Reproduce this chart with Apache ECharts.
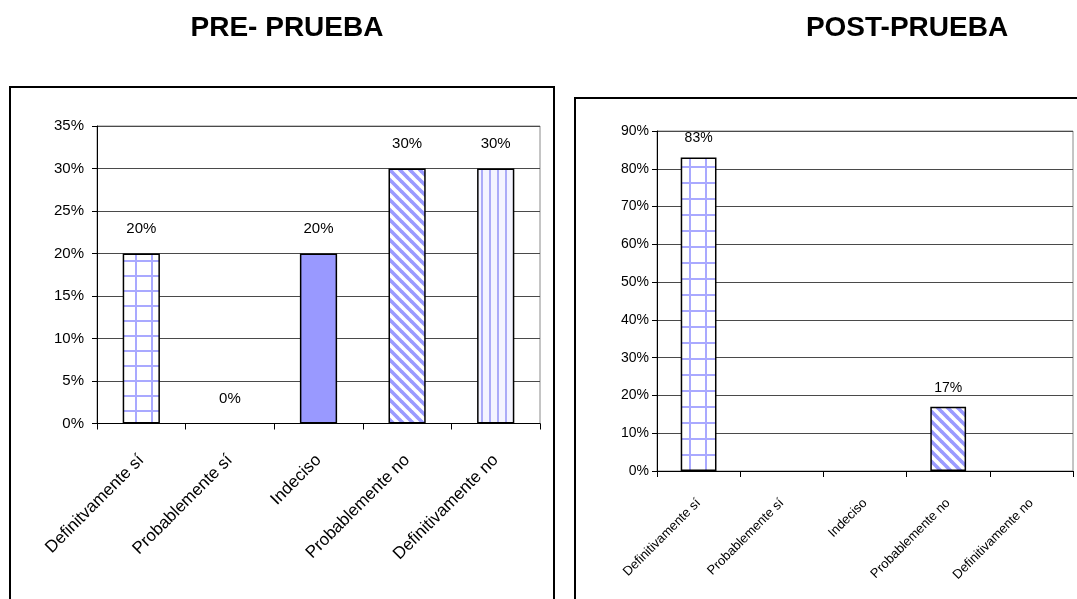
<!DOCTYPE html>
<html>
<head>
<meta charset="utf-8">
<script src="https://cdn.jsdelivr.net/npm/echarts@6/dist/echarts.min.js"></script>
<style>
  html, body { margin: 0; padding: 0; background: #fff; }
  #chart { width: 1077px; height: 599px; }
</style>
</head>
<body>
<div id="chart"></div>
<script>
// Survey answers, before and after
const preCategories = ['Definitvamente sí', 'Probablemente sí', 'Indeciso', 'Probablemente no', 'Definitivamente no'];
const postCategories = ['Definitivamente sí', 'Probablemente sí', 'Indeciso', 'Probablemente no', 'Definitivamente no'];
const preValues = [20, 0, 20, 30, 30];
const postValues = [83, 0, 0, 17, 0];
const preTicks = [0, 5, 10, 15, 20, 25, 30, 35];
const postTicks = [0, 10, 20, 30, 40, 50, 60, 70, 80, 90];

const FONT = 'Arial, "Liberation Sans", sans-serif';

// ---- fill patterns ----
function gridPattern(w, h, vx, hy) {
  const c = document.createElement('canvas');
  c.width = w; c.height = h;
  const g = c.getContext('2d');
  g.fillStyle = '#ffffff'; g.fillRect(0, 0, w, h);
  g.fillStyle = '#a9a9ff';
  g.fillRect(vx - 1, 0, 2, h);
  g.fillRect(0, hy - 1, w, 2);
  return c;
}
function diagonalPattern() {
  const s = 10;
  const c = document.createElement('canvas');
  c.width = s; c.height = s;
  const g = c.getContext('2d');
  g.fillStyle = '#ffffff'; g.fillRect(0, 0, s, s);
  g.strokeStyle = '#9a9aff';
  g.lineWidth = 3.6;
  for (let k = -s; k <= s; k += s) {
    g.beginPath(); g.moveTo(k - 1, -1); g.lineTo(k + s + 1, s + 1); g.stroke();
  }
  return c;
}
function verticalPattern() {
  const c = document.createElement('canvas');
  c.width = 8; c.height = 1;
  const g = c.getContext('2d');
  g.fillStyle = '#f4f4ff'; g.fillRect(0, 0, 8, 1);
  g.fillStyle = '#ababf8'; g.fillRect(1, 0, 2, 1);
  return c;
}
const pat = (img) => ({ image: img, repeat: 'repeat' });

const preFills = [
  pat(gridPattern(16, 15, 8, 6)),
  '#ffffff',
  '#9999ff',
  pat(diagonalPattern()),
  pat(verticalPattern())
];
const postFills = [
  pat(gridPattern(16, 16, 2, 7)),
  '#ffffff',
  '#ffffff',
  pat(diagonalPattern()),
  '#ffffff'
];

function buildData(values, fills, hideZero) {
  return values.map((v, i) => ({
    value: v,
    itemStyle: { color: fills[i], borderWidth: v === 0 ? 0 : 1.5 },
    label: { show: !(hideZero && v === 0) }
  }));
}

function catAxis(gridIndex, cats, fontSize, margin) {
  return {
    type: 'category', gridIndex, data: cats,
    axisLine: { lineStyle: { color: '#000', width: 1 } },
    axisTick: { show: true, length: 6, lineStyle: { color: '#000' } },
    axisLabel: {
      rotate: 45, interval: 0, margin, color: '#000',
      fontFamily: FONT, fontSize
    },
    splitLine: { show: false }
  };
}
function valAxis(gridIndex, ticks, fontSize, margin) {
  return {
    type: 'value', gridIndex,
    min: ticks[0], max: ticks[ticks.length - 1], interval: ticks[1] - ticks[0],
    axisLine: { show: true, lineStyle: { color: '#000', width: 1 } },
    axisTick: { show: true, length: 5, lineStyle: { color: '#000' } },
    axisLabel: { formatter: '{value}%', color: '#000', fontFamily: FONT, fontSize, margin },
    splitLine: { show: true, lineStyle: { color: '#4a4a4a', width: 1 } }
  };
}

const chart = echarts.init(document.getElementById('chart'), null, { renderer: 'canvas', devicePixelRatio: 1 });

chart.setOption({
  animation: false,
  backgroundColor: '#ffffff',
  grid: [
    { left: 97, right: 537, top: 126, bottom: 175.5, show: true, borderColor: '#8a8a8a', borderWidth: 1, backgroundColor: 'transparent' },
    { left: 657, right: 4, top: 131, bottom: 128, show: true, borderColor: '#8a8a8a', borderWidth: 1, backgroundColor: 'transparent' }
  ],
  xAxis: [
    catAxis(0, preCategories, 17, 34),
    catAxis(1, postCategories, 13, 30)
  ],
  yAxis: [
    valAxis(0, preTicks, 15, 13),
    valAxis(1, postTicks, 14, 8)
  ],
  series: [
    {
      type: 'bar', xAxisIndex: 0, yAxisIndex: 0, barWidth: '42%',
      data: buildData(preValues, preFills, false),
      itemStyle: { borderColor: '#000', borderWidth: 1.5 },
      label: { show: true, position: 'top', distance: 17, formatter: '{c}%', color: '#000', fontFamily: FONT, fontSize: 15 }
    },
    {
      type: 'bar', xAxisIndex: 1, yAxisIndex: 1, barWidth: '43%',
      data: buildData(postValues, postFills, true),
      itemStyle: { borderColor: '#000', borderWidth: 1.5 },
      label: { show: true, position: 'top', distance: 12, formatter: '{c}%', color: '#000', fontFamily: FONT, fontSize: 14 }
    }
  ],
  graphic: [
    { type: 'rect', shape: { x: 10, y: 87, width: 544, height: 600 }, style: { fill: 'none', stroke: '#000', lineWidth: 2 }, silent: true },
    { type: 'rect', shape: { x: 575, y: 98, width: 600, height: 600 }, style: { fill: 'none', stroke: '#000', lineWidth: 2 }, silent: true },
    { type: 'text', x: 287, y: 28, style: { text: 'PRE- PRUEBA', font: 'bold 28px ' + FONT, fill: '#000', textAlign: 'center', textVerticalAlign: 'middle' } },
    { type: 'text', x: 907, y: 28, style: { text: 'POST-PRUEBA', font: 'bold 28px ' + FONT, fill: '#000', textAlign: 'center', textVerticalAlign: 'middle' } }
  ]
});
</script>
</body>
</html>
